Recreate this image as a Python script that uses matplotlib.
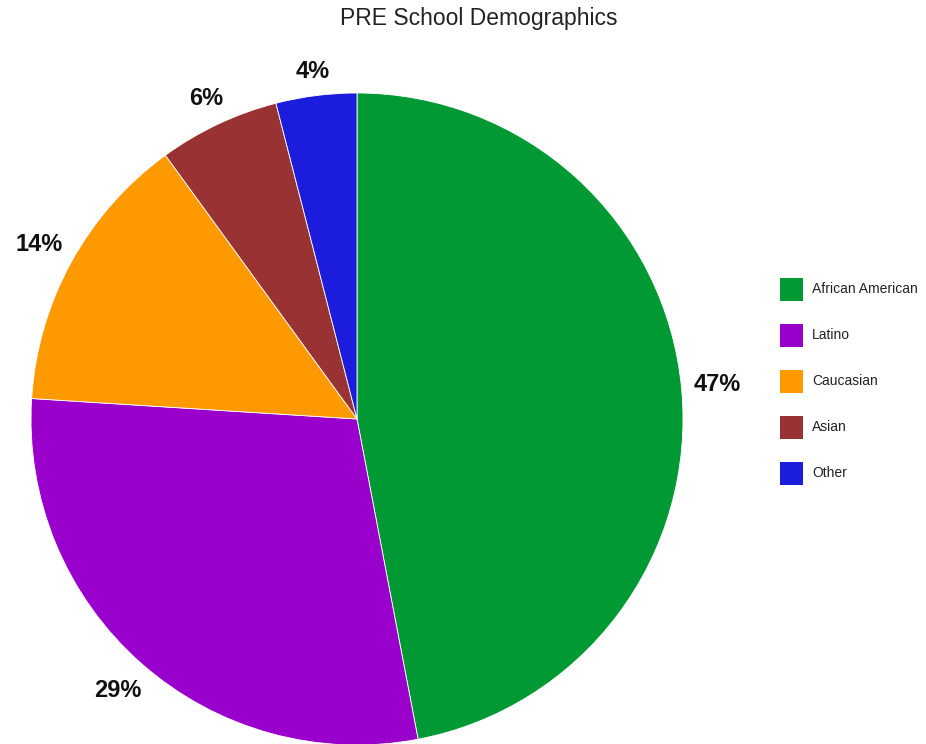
import numpy as np
import matplotlib.pyplot as plt
from matplotlib.patches import Rectangle

plt.rcParams['font.family'] = ['Liberation Sans', 'DejaVu Sans']

groups = ["African American", "Latino", "Caucasian", "Asian", "Other"]
shares = [47, 29, 14, 6, 4]
colors = ["#009933", "#9900cc", "#ff9900", "#993333", "#1c1cdc"]

W, H = 926, 744
fig = plt.figure(figsize=(W / 100, H / 100), dpi=100)
# pie centre ~ (357, 419) px, radius ~326 px
R = 326
ax = fig.add_axes([(357 - R) / W, (H - 419 - R) / H, 2 * R / W, 2 * R / H])
wedges, texts, autotexts = ax.pie(shares, colors=colors, startangle=90, counterclock=False,
                                  autopct='%1.0f%%', pctdistance=1.1, radius=1,
                                  wedgeprops=dict(edgecolor='white', linewidth=0.6))
ax.set_xlim(-1, 1)
ax.set_ylim(-1, 1)
ax.set_aspect('equal')
ax.axis('off')

# put labels just outside the rim, like google charts does
fig.canvas.draw()
renderer = fig.canvas.get_renderer()
gap = 11
for w, t in zip(wedges, autotexts):
    t.set_fontsize(17)
    t.set_fontweight('bold')
    t.set_color('#111111')
    t.set_ha('center')
    t.set_va('center')
    bb = t.get_window_extent(renderer)
    ang = np.deg2rad((w.theta1 + w.theta2) / 2)
    dx, dy = np.cos(ang), np.sin(ang)
    half = abs(dx) * bb.width / 2 + abs(dy) * bb.height / 2
    d = (R + gap + half) / R
    t.set_position((d * dx, d * dy))

fig.text(479 / W, 1 - 18 / H, "PRE School Demographics", ha='center', va='center',
         fontsize=16.5, color='#222222')

# legend
sq = 23
for i, (g, c) in enumerate(zip(groups, colors)):
    yc = 289 + i * 46
    fig.add_artist(Rectangle((780 / W, (H - yc - sq / 2) / H), sq / W, sq / H,
                             transform=fig.transFigure, facecolor=c, edgecolor='none'))
    fig.text(812 / W, (H - yc) / H, g, ha='left', va='center', fontsize=10, color='#222222')

plt.savefig("out.png", dpi=100)
